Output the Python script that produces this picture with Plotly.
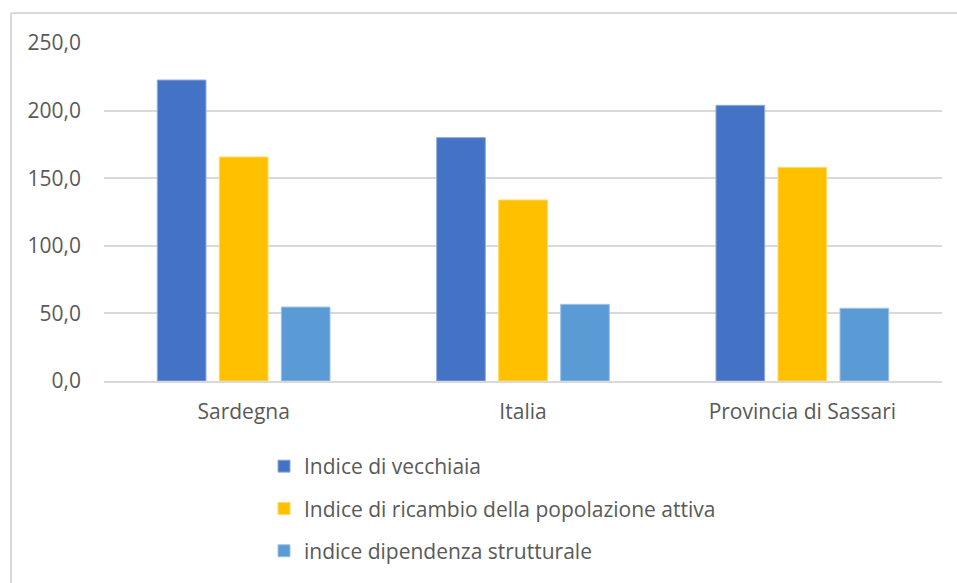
import plotly.graph_objects as go

# Categories and series values
regions = ["Sardegna", "Italia", "Provincia di Sassari"]
indice_vecchiaia = [222.6, 180.0, 203.9]
indice_ricambio = [165.7, 133.9, 158.0]
indice_dipendenza = [54.7, 56.7, 53.8]
series_names = [
    "Indice di vecchiaia",
    "Indice di ricambio della popolazione attiva",
    "indice dipendenza strutturale",
]
y_ticks = [0, 50, 100, 150, 200, 250]
y_tick_labels = ["0,0", "50,0", "100,0", "150,0", "200,0", "250,0"]

colors = ["#4472C4", "#FFC000", "#5B9BD5"]
outlines = ["#8FAADC", "#FFD966", "#9DC3E6"]

W, H = 957, 583
L, R, T, B = 104, 15, 43, 202
pw, ph = W - L - R, H - T - B


def px_x(x):
    return (x - L) / pw


def px_y(y):
    return (H - B - y) / ph


fig = go.Figure()
for i, (name, vals) in enumerate(zip(series_names, [indice_vecchiaia, indice_ricambio, indice_dipendenza])):
    fig.add_trace(go.Bar(
        x=regions, y=vals, name=name, legendgroup=f"g{i}",
        marker=dict(color=colors[i], line=dict(color=outlines[i], width=1)),
    ))

text_color = "#595959"
fig.update_layout(
    width=W, height=H,
    margin=dict(l=L, r=R, t=T, b=B, autoexpand=False),
    paper_bgcolor="white", plot_bgcolor="white",
    barmode="group", bargap=0.334, bargroupgap=0.215,
    showlegend=True,
    legend=dict(
        x=px_x(264), y=px_y(446), xanchor="left", yanchor="top",
        font=dict(family="Open Sans", size=21, color=text_color),
        tracegroupgap=12, traceorder="grouped",
        bgcolor="rgba(0,0,0,0)",
    ),
    font=dict(family="Open Sans", color=text_color),
    xaxis=dict(
        showgrid=False, showline=True, linecolor="#d9d9d9", linewidth=1.5,
        tickfont=dict(family="Open Sans", size=21, color=text_color),
        ticks="", ticklabelstandoff=11,
    ),
    yaxis=dict(
        range=[0, 250], tickvals=y_ticks, ticktext=y_tick_labels,
        showgrid=True, gridcolor="#d9d9d9", gridwidth=1.5,
        zeroline=False, showline=False, ticks="",
        tickfont=dict(family="Open Sans", size=21, color=text_color),
        ticklabelstandoff=22,
    ),
    shapes=[
        dict(type="line", xref="paper", yref="paper",
             x0=px_x(11), x1=px_x(957), y0=px_y(13), y1=px_y(13),
             line=dict(color="#d9d9d9", width=2)),
        dict(type="line", xref="paper", yref="paper",
             x0=px_x(11), x1=px_x(11), y0=px_y(13), y1=px_y(583),
             line=dict(color="#d9d9d9", width=2)),
    ],
)

fig.write_html("out.html")
